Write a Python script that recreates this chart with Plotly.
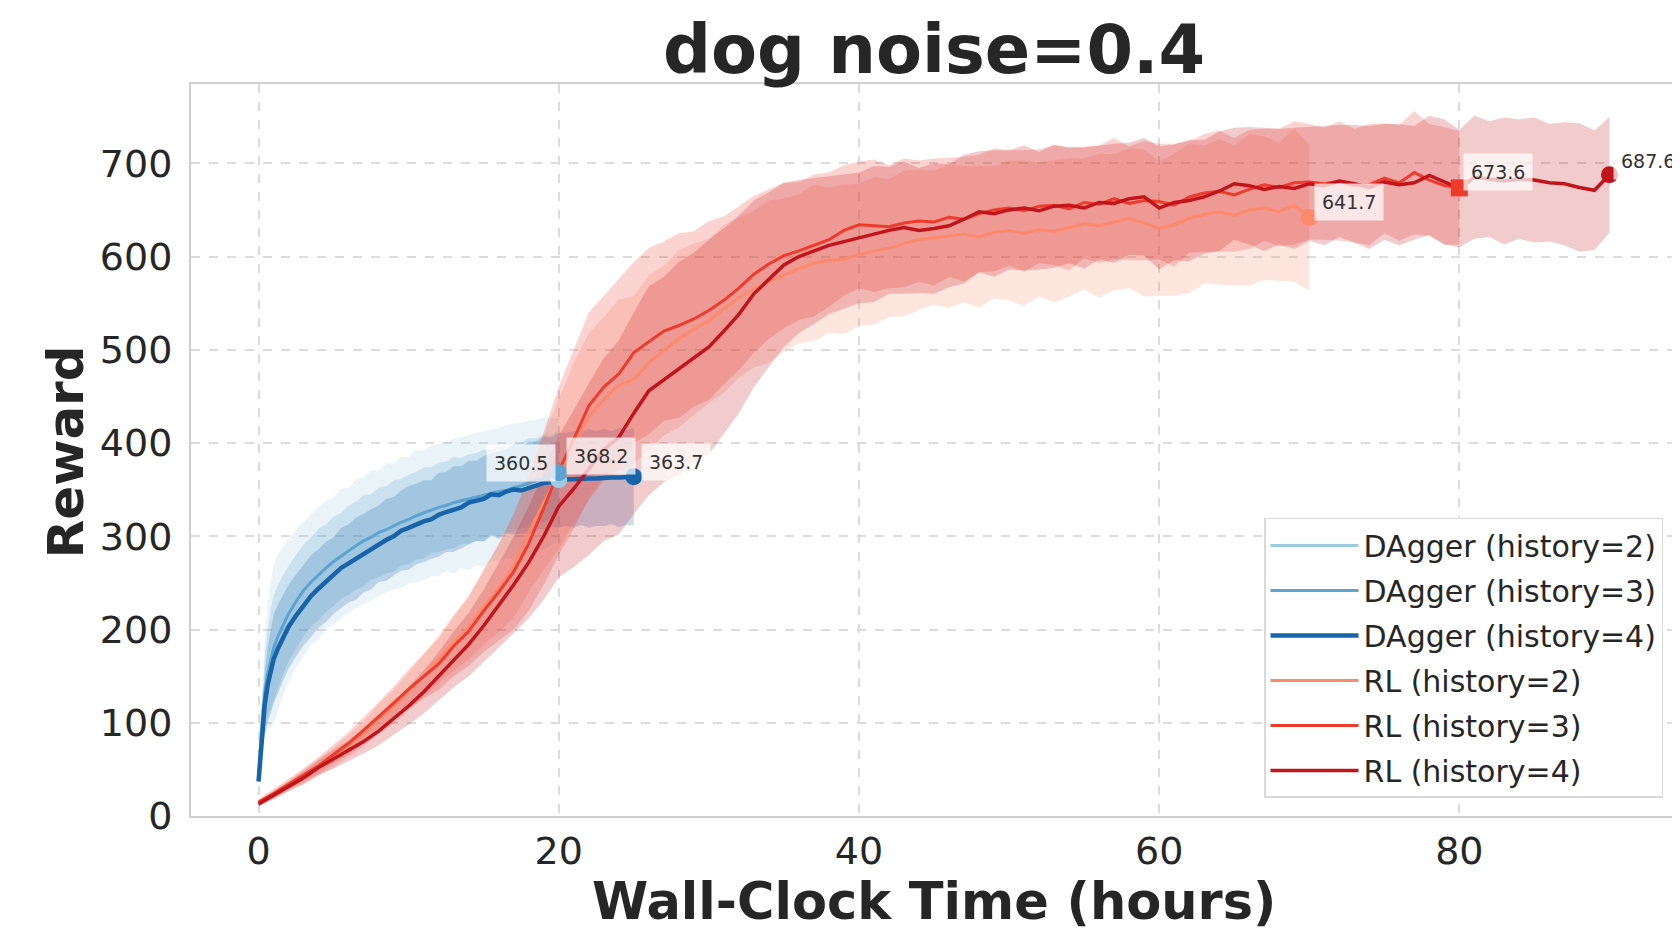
import plotly.graph_objects as go

# ---------------- data ----------------
SERIES_NAMES = ["DAgger (history=2)", "DAgger (history=3)", "DAgger (history=4)",
                "RL (history=2)", "RL (history=3)", "RL (history=4)"]

DAG_X = [0, 0.1, 0.2, 0.4, 0.6, 0.8, 1.0, 1.3, 1.6, 2.0, 2.5, 3.0, 3.5, 4.0, 4.5, 5.0, 5.5, 6.0,
         6.5, 7.0, 7.5, 8.0, 8.5, 9.0, 9.5, 10.0, 10.5, 11.0, 11.5, 12.0, 12.5, 13.0, 13.5, 14.0,
         14.5, 15.0, 15.5, 16.0, 16.5, 17.0, 17.5, 18.0, 18.5, 19.0, 19.5, 20.0]
DAG4_X = DAG_X + [20.5, 21.0, 21.5, 22.0, 22.5, 23.0, 23.5, 24.0, 24.5, 25.0]

DAG2_MEAN = [40, 66, 98, 136, 158, 173, 184, 197, 208, 220, 233, 243, 254, 260, 269, 274, 281, 285,
             292, 295, 301, 303, 309, 310, 315, 317, 322, 322, 327, 328, 332, 332, 336, 336, 340,
             340, 344, 344, 348, 348, 352, 352, 356, 356, 359, 360.5]
DAG3_MEAN = [38, 62, 92, 130, 152, 168, 180, 193, 204, 217, 230, 242, 251, 259, 266, 273, 279, 285,
             290, 295, 299, 304, 307, 311, 315, 318, 322, 325, 328, 331, 333, 336, 338, 340, 342,
             344, 346, 348, 349, 352, 354, 357, 360, 362, 364, 368.2]
DAG4_MEAN = [37, 55, 80, 118, 140, 155, 168, 180, 190, 203, 215, 226, 236, 244, 251, 258, 266, 271,
             276, 282, 286, 292, 296, 300, 306, 309, 313, 316, 318, 323, 326, 329, 331, 336, 338,
             340, 345, 344, 348, 350, 349, 352, 355, 357, 358, 360, 361, 361, 362, 362, 362, 363,
             363, 363, 363, 363.7]

DAG2_SD = [4, 15, 30, 50, 65, 78, 85, 84, 80, 76, 74, 72, 70, 71, 69, 68, 70, 67, 69, 68, 70, 67,
           69, 68, 70, 68, 71, 69, 70, 71, 69, 72, 70, 72, 71, 73, 70, 72, 71, 73, 70, 72, 69, 71,
           68, 66]
DAG3_SD = [3, 12, 22, 36, 46, 52, 56, 55, 53, 51, 50, 49, 48, 49, 47, 48, 46, 48, 47, 49, 46, 48,
           47, 49, 46, 48, 47, 49, 46, 48, 47, 49, 46, 48, 47, 49, 46, 48, 45, 47, 46, 48, 45, 47,
           44, 46]
DAG4_SD = [3, 10, 20, 32, 40, 45, 48, 47, 46, 45, 44, 43, 44, 42, 43, 41, 43, 42, 44, 42, 43, 41,
           44, 42, 43, 45, 43, 44, 42, 45, 43, 46, 44, 45, 43, 46, 44, 47, 45, 48, 46, 49, 47, 50,
           48, 51, 50, 52, 50, 53, 51, 52, 50, 53, 51, 52]

RL2_X = list(range(0, 71))
RL3_X = list(range(0, 81))
RL4_X = list(range(0, 91))

RL2_MEAN = [14, 23, 32, 42, 52, 63, 75, 88, 104, 117,
            134, 150, 168, 186, 202, 224, 244, 268, 304, 336,
            366, 400, 428, 447, 462, 468, 486, 499, 512, 522,
            531, 544, 556, 565, 573, 580, 587, 593, 596, 597,
            602, 606, 609, 614, 618, 620, 622, 624, 621, 626,
            628, 625, 629, 627, 631, 635, 633, 637, 641, 636,
            630, 634, 641, 645, 648, 644, 650, 652, 648, 655, 641.7]
RL3_MEAN = [15, 24, 34, 44, 54, 66, 78, 92, 106, 121,
            136, 150, 163, 182, 198, 220, 240, 262, 292, 330,
            370, 404, 440, 460, 474, 497, 509, 520, 526, 533,
            542, 553, 566, 581, 592, 601, 606, 612, 618, 628,
            634, 633, 632, 636, 638, 637, 642, 640, 646, 650,
            652, 649, 654, 655, 651, 658, 656, 662, 657, 660,
            659, 655, 664, 668, 670, 666, 672, 677, 674, 679,
            680, 678, 681, 676, 677, 684, 679, 690, 682, 676, 673.6]
RL4_MEAN = [13, 22, 32, 41, 52, 61, 70, 80, 91, 104,
            118, 133, 150, 168, 184, 204, 226, 248, 272, 300,
            332, 351, 372, 393, 406, 432, 456, 468, 480, 492,
            503, 520, 538, 560, 575, 591, 600, 606, 612, 616,
            620, 624, 628, 631, 628, 630, 633, 640, 648, 646,
            650, 652, 649, 654, 655, 652, 658, 657, 662, 664,
            652, 658, 660, 664, 670, 678, 676, 672, 675, 673,
            678, 676, 681, 678, 674, 680, 677, 679, 687, 680,
            673, 685, 683, 681, 683, 682, 679, 678, 674, 671, 687.6]

RL2_SD = [3, 5, 6, 8, 9, 11, 12, 14, 16, 18,
          20, 23, 26, 30, 34, 40, 47, 55, 64, 72,
          80, 86, 90, 88, 92, 90, 94, 91, 95, 92,
          88, 90, 86, 84, 87, 82, 80, 84, 78, 80,
          76, 79, 74, 78, 75, 72, 77, 73, 76, 71,
          75, 78, 72, 76, 74, 70, 77, 73, 75, 79,
          72, 76, 80, 74, 78, 75, 81, 77, 74, 82, 78]
RL3_SD = [3, 5, 6, 7, 9, 10, 12, 14, 16, 18,
          21, 24, 28, 32, 37, 44, 52, 62, 72, 82,
          90, 96, 100, 98, 102, 97, 100, 96, 99, 94,
          96, 90, 88, 84, 80, 78, 74, 76, 72, 70,
          68, 71, 66, 69, 65, 68, 64, 67, 63, 66,
          62, 65, 61, 64, 66, 60, 63, 65, 61, 64,
          62, 66, 60, 63, 65, 61, 64, 60, 63, 66,
          62, 60, 64, 61, 65, 59, 62, 66, 60, 63, 61]
RL4_SD = [3, 4, 5, 7, 8, 10, 11, 13, 15, 17,
          20, 23, 26, 30, 34, 39, 45, 52, 60, 68,
          76, 84, 92, 98, 104, 108, 112, 110, 114, 112,
          115, 110, 106, 100, 94, 88, 82, 78, 74, 72,
          70, 73, 68, 71, 67, 70, 66, 69, 65, 68,
          64, 67, 63, 66, 62, 65, 61, 64, 60, 63,
          66, 62, 65, 61, 64, 60, 63, 66, 62, 65,
          61, 64, 60, 63, 66, 62, 65, 61, 64, 67,
          63, 66, 62, 68, 64, 67, 63, 66, 69, 64, 62]

X_TICKS = [0, 20, 40, 60, 80]
Y_TICKS = [0, 100, 200, 300, 400, 500, 600, 700]

# ---------------- styling ----------------
COLORS = ["#9ecae1", "#5ba3d0", "#1764ab", "#fc8a6a", "#ef3b2c", "#c2141b"]
WIDTHS = [3, 3, 4.5, 3, 3, 3.5]
SYMBOLS = ["circle", "circle", "circle", "circle", "square", "circle"]
BAND_ALPHA = 0.22
# label offsets (px) for end-value annotations
LABEL_SHIFT = [(-38, 17), (42, 17), (42, 15), (40, 16), (39, 16), (39, 14)]

series = [
    (DAG_X, DAG2_MEAN, DAG2_SD),
    (DAG_X, DAG3_MEAN, DAG3_SD),
    (DAG4_X, DAG4_MEAN, DAG4_SD),
    (RL2_X, RL2_MEAN, RL2_SD),
    (RL3_X, RL3_MEAN, RL3_SD),
    (RL4_X, RL4_MEAN, RL4_SD),
]
for xs, m, s in series:
    assert len(xs) == len(m) == len(s), (len(xs), len(m), len(s))


def rgba(hex_color, a):
    h = hex_color.lstrip("#")
    r, g, b = int(h[0:2], 16), int(h[2:4], 16), int(h[4:6], 16)
    return f"rgba({r},{g},{b},{a})"


FONT = "DejaVu Sans"
TXT = "#262626"

fig = go.Figure()

# bands
for i, (xs, m, s) in enumerate(series):
    upper = [a + b for a, b in zip(m, s)]
    lower = [a - b for a, b in zip(m, s)]
    fig.add_trace(go.Scatter(
        x=list(xs) + list(xs)[::-1], y=upper + lower[::-1],
        fill="toself", fillcolor=rgba(COLORS[i], BAND_ALPHA),
        line=dict(width=0), mode="lines", hoverinfo="skip",
        showlegend=False, legendgroup=f"g{i}"))

# mean lines
for i, (xs, m, s) in enumerate(series):
    fig.add_trace(go.Scatter(
        x=xs, y=m, mode="lines", name=SERIES_NAMES[i],
        line=dict(color=COLORS[i], width=WIDTHS[i]),
        legendgroup=f"g{i}"))

# end markers + labels
annotations = []
for i, (xs, m, s) in enumerate(series):
    fig.add_trace(go.Scatter(
        x=[xs[-1]], y=[m[-1]], mode="markers",
        marker=dict(color=COLORS[i], size=17, symbol=SYMBOLS[i]),
        showlegend=False, legendgroup=f"g{i}", hoverinfo="skip"))
    dx, dy = LABEL_SHIFT[i]
    annotations.append(dict(
        x=xs[-1], y=m[-1], xref="x", yref="y", text=f"{m[-1]:.1f}",
        showarrow=False, xshift=dx, yshift=dy,
        font=dict(family=FONT, size=19, color="#333333"),
        bgcolor="rgba(255,255,255,0.72)", borderpad=7))

# titles as annotations
annotations.append(dict(
    text="<b>dog noise=0.4</b>", x=0.5, y=1.0464, xref="paper", yref="paper",
    showarrow=False, xanchor="center", yanchor="middle",
    font=dict(family=FONT, size=67, color=TXT)))
annotations.append(dict(
    text="<b>Wall-Clock Time (hours)</b>", x=0.5, y=-0.117, xref="paper", yref="paper",
    showarrow=False, xanchor="center", yanchor="middle",
    font=dict(family=FONT, size=51, color=TXT)))
annotations.append(dict(
    text="<b>Reward</b>", x=-0.0841, y=0.497, xref="paper", yref="paper",
    showarrow=False, xanchor="center", yanchor="middle", textangle=-90,
    font=dict(family=FONT, size=50, color=TXT)))

axis_common = dict(
    showgrid=True, gridcolor="#dcdcdc", gridwidth=1.5, griddash="dash",
    showline=True, linecolor="#cfcfcf", linewidth=2, mirror=True,
    zeroline=False, ticks="", automargin=False,
    tickfont=dict(family=FONT, size=38, color=TXT),
)

# the page places the figure at an 8px body offset; size the figure to fill the window
fig.update_layout(
    width=1672, height=923,
    margin=dict(l=183, r=3, t=76, b=115),
    paper_bgcolor="white", plot_bgcolor="white",
    font=dict(family=FONT, color=TXT),
    xaxis=dict(range=[-4.5, 94.5], tickvals=X_TICKS, ticklabelstandoff=0, **axis_common),
    yaxis=dict(range=[0, 785], tickvals=Y_TICKS, ticklabelstandoff=9, **axis_common),
    legend=dict(
        x=0.9906, y=0.0246, xanchor="right", yanchor="bottom",
        bgcolor="white", bordercolor="#d9d9d9", borderwidth=1.5,
        font=dict(family=FONT, size=30, color=TXT),
        tracegroupgap=3, itemwidth=88,
    ),
    annotations=annotations,
    showlegend=True,
)

fig.write_html("out.html")
